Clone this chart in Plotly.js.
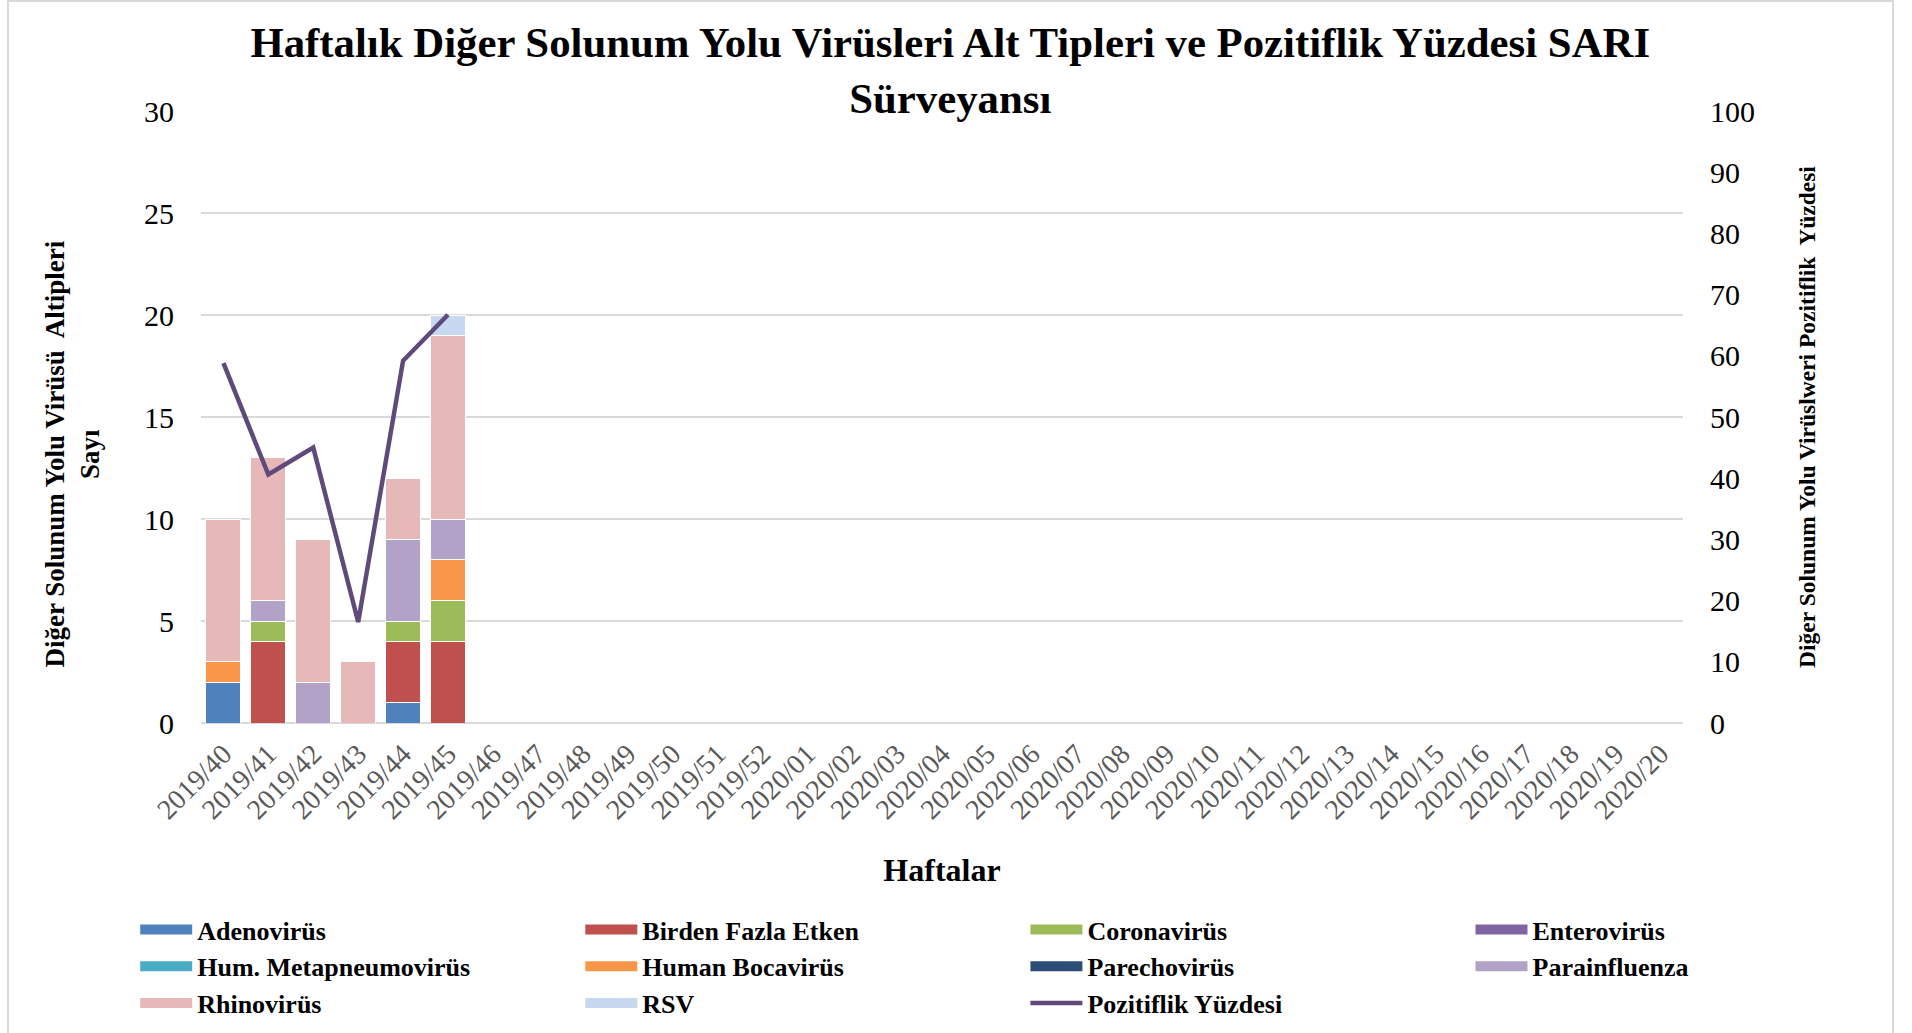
<!DOCTYPE html>
<html><head><meta charset="utf-8">
<script src="https://cdn.plot.ly/plotly-3.0.1.min.js"></script>
<style>html,body{margin:0;padding:0;background:#fff}#chart{width:1912px;height:1033px}</style>
</head><body><div id="chart"></div>
<script>
// ---- data ----
const weeks = ['2019/40','2019/41','2019/42','2019/43','2019/44','2019/45','2019/46','2019/47','2019/48','2019/49','2019/50','2019/51','2019/52',
  '2020/01','2020/02','2020/03','2020/04','2020/05','2020/06','2020/07','2020/08','2020/09','2020/10','2020/11','2020/12','2020/13','2020/14',
  '2020/15','2020/16','2020/17','2020/18','2020/19','2020/20'];
const reportedWeeks = ['2019/40','2019/41','2019/42','2019/43','2019/44','2019/45'];
const adenovirus     = [2,0,0,0,1,0];
const birdenFazla    = [0,4,0,0,3,4];
const coronavirus    = [0,1,0,0,1,2];
const enterovirus    = [0,0,0,0,0,0];
const hMetapneumo    = [0,0,0,0,0,0];
const humanBocavirus = [1,0,0,0,0,2];
const parechovirus   = [0,0,0,0,0,0];
const parainfluenza  = [0,1,2,0,4,2];
const rhinovirus     = [7,7,7,3,3,9];
const rsv            = [0,0,0,0,0,1];
const pozitiflik     = [58.8,40.6,45.0,16.5,59.2,66.7];

const seriesNames = ['Adenovirüs','Birden Fazla Etken','Coronavirüs','Enterovirüs','Hum. Metapneumovirüs',
  'Human Bocavirüs','Parechovirüs','Parainfluenza','Rhinovirüs','RSV'];
const seriesValues = [adenovirus,birdenFazla,coronavirus,enterovirus,hMetapneumo,humanBocavirus,parechovirus,parainfluenza,rhinovirus,rsv];
const lineName = 'Pozitiflik Yüzdesi';

// ---- styles ----
const seriesColors = ['#4F81BD','#C0504D','#9BBB59','#8064A2','#4BACC6','#F79646','#2C4D75','#B3A2C7','#E6B9B8','#C6D9F0'];
const lineColor = '#604A7B';
const F = 'Liberation Serif, Times New Roman, serif';
const legendIds = ['legend','legend2','legend3','legend4'];
const pad = n => '&nbsp;'.repeat(n);

const traces = [];
seriesNames.forEach((n,i)=>{
  traces.push({type:'bar', name:n, x:reportedWeeks, y:seriesValues[i], marker:{color:seriesColors[i], line:{color:'#ffffff', width:1}},
    showlegend:false, hoverinfo:'name+y'});
});
// legend swatches (no visible points)
seriesNames.forEach((n,i)=>{
  traces.push({type:'scatter', mode:'lines', name:n, x:[reportedWeeks[0]], y:[null], line:{color:seriesColors[i], width:14},
    legend:legendIds[i%4], hoverinfo:'skip'});
});
traces.push({type:'scatter', mode:'lines', name:lineName, x:reportedWeeks, y:pozitiflik, yaxis:'y2',
  line:{color:lineColor, width:4.5}, legend:legendIds[10%4]});

const plotL = 201, plotR = 1683, plotT = 111, plotB = 723;
const pw = plotR-plotL, ph = plotB-plotT;
function leg(px){
  return {x:(px-plotL)/pw, y:(plotB-906)/ph, xanchor:'left', yanchor:'top', orientation:'v', itemwidth:52, traceorder:'normal',
    font:{family:F, size:26, color:'#000', weight:'bold'}, bgcolor:'rgba(0,0,0,0)', borderwidth:0, tracegroupgap:0};
}

const layout = {
  width:1912, height:1033,
  margin:{l:plotL, r:1912-plotR, t:plotT, b:1033-plotB, autoexpand:false},
  paper_bgcolor:'#fff', plot_bgcolor:'#fff',
  barmode:'stack', bargap:0.22,
  title:{text:'Haftalık Diğer Solunum Yolu Virüsleri Alt Tipleri ve Pozitiflik Yüzdesi SARI<br>Sürveyansı',
    font:{family:F, size:42.8, color:'#000', weight:'bold'}, x:0.497, xref:'container', xanchor:'center',
    y:1-57/1033, yref:'container', yanchor:'top'},
  xaxis:{type:'category', categoryorder:'array', categoryarray:weeks, range:[-0.5, weeks.length-0.5],
    tickangle:-45, tickfont:{family:F, size:28, color:'#595959'}, showgrid:false, showline:false, ticks:'',
    ticklabelstandoff:8,
    title:{text:'Haftalar', font:{family:F, size:32, color:'#000', weight:'bold'}, standoff:34}},
  yaxis:{range:[0,30], dtick:5, tickfont:{family:F, size:30, color:'#000'}, gridcolor:'#D9D9D9', gridwidth:2,
    zeroline:true, zerolinecolor:'#D9D9D9', zerolinewidth:2, ticks:'', ticklabelstandoff:26, showline:false,
    title:{text:'Diğer Solunum Yolu Virüsü  Altipleri'+pad(11)+'<br>Sayı'+pad(11), font:{family:F, size:27, color:'#000', weight:'bold'}, standoff:36}},
  yaxis2:{range:[0,100], dtick:10, overlaying:'y', side:'right', showgrid:false, zeroline:false,
    tickfont:{family:F, size:30, color:'#000'}, ticks:'', ticklabelstandoff:26,
    title:{text:'Diğer Solunum Yolu Virüslweri Pozitiflik  Yüzdesi', font:{family:F, size:23.5, color:'#000', weight:'bold'}, standoff:44}},
  legend:leg(135.2), legend2:leg(580.3), legend3:leg(1025.4), legend4:leg(1470.5),
  shapes:[{type:'rect', xref:'paper', yref:'paper', x0:(8-plotL)/pw, x1:(1893-plotL)/pw, y0:(plotB-1100)/ph, y1:(plotB-1)/ph,
    line:{color:'#D9D9D9', width:2}, fillcolor:'rgba(0,0,0,0)', layer:'below'}],
  showlegend:true
};
Plotly.newPlot('chart', traces, layout, {displayModeBar:false, responsive:false});
</script></body></html>
